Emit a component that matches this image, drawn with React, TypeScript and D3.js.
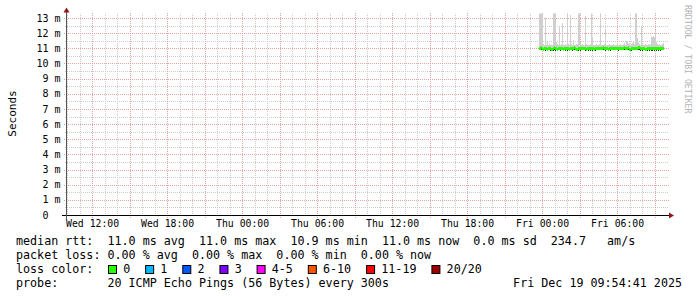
import React from 'react';
import * as d3 from 'd3';

const W = 697;
const H = 297;
const MONO = '"DejaVu Sans Mono", monospace';

// time frame (UTC)
const RANGE_START = Date.UTC(2025, 11, 17, 9, 54, 41);
const RANGE_END = Date.UTC(2025, 11, 19, 9, 54, 41);
const SERIES_START = Date.UTC(2025, 11, 18, 23, 45, 0);
const STEP_MS = 300 * 1000;

const yTickValues = [0, 1, 2, 3, 4, 5, 6, 7, 8, 9, 10, 11, 12, 13];

// median rtt per 5-min step (ms)
const medianMs = [
  11.0, 11.0, 11.05, 11.0, 10.95, 11.0, 11.0, 11.0, 10.95, 11.0,
  11.0, 11.0, 10.95, 11.0, 11.05, 11.0, 11.0, 10.95, 11.0, 11.0,
  11.0, 11.0, 11.0, 10.95, 11.0, 11.0, 11.0, 11.0, 11.0, 10.95,
  11.0, 11.0, 11.0, 11.0, 11.05, 11.0, 10.95, 11.0, 11.0, 11.0,
  11.0, 11.0, 11.0, 11.0, 11.0, 10.95, 11.0, 11.0, 11.0, 11.0,
  11.0, 11.0, 11.0, 10.95, 11.0, 11.0, 11.0, 11.0, 11.0, 11.0,
  11.0, 11.05, 11.0, 11.0, 11.0, 11.0, 10.95, 11.0, 11.0, 11.0,
  11.0, 11.0, 11.0, 11.0, 11.0, 11.0, 11.0, 11.0, 11.0, 11.0,
  11.0, 11.0, 11.05, 11.0, 11.0, 11.05, 10.95, 10.95, 11.0, 11.0,
  11.0, 11.0, 11.0, 11.0, 11.0, 11.05, 11.05, 11.0, 11.0, 11.0,
  11.0, 11.0, 10.95, 10.95, 11.0, 11.0, 11.0, 11.0, 11.0, 11.0,
  11.0, 11.0, 11.0, 11.0, 11.0, 11.0, 11.0, 11.0, 11.0, 11.0,
];

// slowest ping per step (top of the smoke, ms)
const maxMs = [
  13.6, 13.6, 13.5, 13.4, 11.3, 11.2, 13.0, 11.25, 11.4, 11.2,
  11.3, 11.2, 11.25, 13.6, 13.6, 13.5, 11.4, 11.3, 11.2, 12.45,
  11.2, 11.3, 12.65, 11.2, 11.25, 11.3, 11.2, 13.4, 11.3, 11.2,
  13.2, 11.3, 11.2, 11.55, 11.25, 11.2, 11.3, 13.5, 13.6, 11.4,
  11.2, 11.3, 11.2, 11.25, 13.15, 11.3, 11.2, 11.25, 11.2, 11.3,
  13.6, 11.75, 11.2, 11.25, 11.2, 11.3, 11.2, 11.2, 11.3, 13.4,
  11.25, 11.2, 11.3, 12.3, 11.2, 11.25, 11.2, 11.3, 11.2, 11.25,
  11.2, 11.3, 11.2, 11.2, 11.25, 11.3, 11.2, 11.25, 11.3, 11.2,
  11.25, 11.3, 11.35, 11.25, 11.45, 11.3, 11.35, 11.2, 11.3, 11.35,
  11.4, 11.3, 13.6, 13.5, 11.7, 11.4, 11.3, 11.25, 12.4, 11.3,
  11.2, 11.25, 11.3, 11.2, 11.25, 11.3, 11.25, 11.3, 11.75, 11.8,
  11.75, 12.2, 11.4, 11.3, 11.25, 11.3, 11.25, 11.2, 11.3, 11.35,
];

// fastest ping per step (bottom of the smoke, ms)
const minMs = [
  10.92, 10.92, 10.92, 10.92, 10.8, 10.92, 10.8, 10.92, 10.8, 10.92,
  10.92, 10.8, 10.92, 10.8, 10.92, 10.8, 10.92, 10.92, 10.92, 10.92,
  10.8, 10.92, 10.92, 10.92, 10.92, 10.8, 10.92, 10.8, 10.92, 10.92,
  10.92, 10.92, 10.8, 10.92, 10.92, 10.92, 10.92, 10.8, 10.92, 10.8,
  10.92, 10.92, 10.92, 10.92, 10.8, 10.92, 10.92, 10.8, 10.92, 10.8,
  10.92, 10.8, 10.92, 10.92, 10.8, 10.92, 10.92, 10.92, 10.92, 10.92,
  10.92, 10.92, 10.92, 10.8, 10.92, 10.92, 10.92, 10.92, 10.8, 10.92,
  10.92, 10.92, 10.92, 10.92, 10.92, 10.92, 10.8, 10.92, 10.92, 10.92,
  10.92, 10.92, 10.92, 10.92, 10.92, 10.92, 10.8, 10.92, 10.8, 10.92,
  10.92, 10.92, 10.92, 10.92, 10.92, 10.92, 10.92, 10.8, 10.92, 10.8,
  10.92, 10.92, 10.92, 10.92, 10.8, 10.92, 10.8, 10.92, 10.8, 10.92,
  10.8, 10.92, 10.8, 10.92, 10.8, 10.92, 10.8, 10.92, 10.92, 10.92,
];

const lossLabels = ['0', '1', '2', '3', '4-5', '6-10', '11-19', '20/20'];
const lossColors = ['#26ff00', '#00b8ff', '#0059ff', '#7e00ff', '#ff00ff', '#ff5500', '#ff0000', '#a00000'];

const legendLine1 = 'median rtt:  11.0 ms avg  11.0 ms max  10.9 ms min  11.0 ms now  0.0 ms sd  234.7   am/s';
const legendLine2 = 'packet loss: 0.00 % avg  0.00 % max  0.00 % min  0.00 % now';
const legendLine3 = 'loss color:';
const legendLine4 = 'probe:       20 ICMP Echo Pings (56 Bytes) every 300s';
const dateStamp = 'Fri Dec 19 09:54:41 2025';
const yTitle = 'Seconds';
const watermark = 'RRDTOOL / TOBI OETIKER';

const X0 = 66;
const X1 = 666;
const Y0 = 215;
const YTOP = 13.5;

export default function App() {
  const x = d3.scaleUtc().domain([RANGE_START, RANGE_END]).range([X0, X1]);
  const y = d3.scaleLinear().domain([0, 13]).range([Y0, 18]);

  const minorV = d3.utcHour.every(1)!.range(new Date(RANGE_START), new Date(RANGE_END));
  const majorV = d3.utcHour.every(3)!.range(new Date(RANGE_START), new Date(RANGE_END));
  const labelV = d3.utcHour.every(6)!.range(new Date(RANGE_START), new Date(RANGE_END));
  const fmt = d3.utcFormat('%a %H:%M');

  const minorH = d3.range(0.5, 13.01, 1);

  const steps = medianMs.map((m, i) => {
    const t0 = SERIES_START + i * STEP_MS;
    const xa = x(t0);
    const xb = x(t0 + STEP_MS);
    return { xa, w: xb - xa, med: m, mx: maxMs[i], mn: minMs[i] };
  });

  const charW = 11.7 * 0.6021;
  let bx = 108.5;
  const boxes = lossLabels.map((lab, i) => {
    const item = { bx, tx: bx + 14.7, lab, color: lossColors[i] };
    bx = bx + 14.7 + lab.length * charW + 15.4;
    return item;
  });

  const legendStyle: React.CSSProperties = { whiteSpace: 'pre' };

  return (
    <svg width={W} height={H} style={{ position: 'absolute', left: 0, top: 0, background: '#fff' }}>
      <rect x={0} y={0} width={W} height={H} fill="#ffffff" />
      <defs>
        <clipPath id="plotclip">
          <rect x={X0} y={YTOP} width={X1 - X0} height={Y0 - YTOP} />
        </clipPath>
      </defs>

      {/* minor grid */}
      {minorH.map((v) => (
        <line key={'mh' + v} x1={X0 - 1} x2={X1 + 2} y1={Math.round(y(v)) + 0.5} y2={Math.round(y(v)) + 0.5}
          stroke="#cccccc" strokeDasharray="1,1" />
      ))}
      {minorV.map((d) => (
        <line key={'mv' + +d} x1={Math.round(x(d)) + 0.5} x2={Math.round(x(d)) + 0.5} y1={Y0 + 1} y2={YTOP}
          stroke="#cccccc" strokeDasharray="1,1" />
      ))}
      {/* major grid */}
      {yTickValues.filter((v) => v > 0).map((v) => (
        <line key={'Mh' + v} x1={X0 - 2} x2={X1 + 3} y1={Math.round(y(v)) + 0.5} y2={Math.round(y(v)) + 0.5}
          stroke="#e8a4a4" strokeDasharray="1,1" />
      ))}
      {majorV.map((d) => (
        <line key={'Mv' + +d} x1={Math.round(x(d)) + 0.5} x2={Math.round(x(d)) + 0.5} y1={Y0 + 3} y2={YTOP - 1}
          stroke="#e8a4a4" strokeDasharray="1,1" />
      ))}

      {/* smoke + median */}
      <g clipPath="url(#plotclip)" shapeRendering="crispEdges">
        {steps.map((s, i) => (
          <rect key={'up' + i} x={s.xa} width={s.w} y={y(s.mx)} height={y(s.med) - y(s.mx)} fill="#cfcfcf" />
        ))}
        {steps.map((s, i) => (
          <rect key={'lo' + i} x={s.xa} width={s.w} y={y(s.med)} height={y(s.mn) - y(s.med)} fill="#2a2a2a" />
        ))}
        {steps.map((s, i) => (
          <rect key={'md' + i} x={s.xa} width={s.w} y={y(s.med + 0.1)} height={y(s.med - 0.1) - y(s.med + 0.1)}
            fill={lossColors[0]} />
        ))}
      </g>

      {/* axes */}
      <line x1={X0 - 4} x2={X1 + 3} y1={Y0 + 0.5} y2={Y0 + 0.5} stroke="#000" />
      <line x1={X0 + 0.5} x2={X0 + 0.5} y1={Y0 + 4} y2={YTOP - 2} stroke="#555" />
      <path d={`M${X1 + 3},${Y0 + 0.5 - 3}L${X1 + 8},${Y0 + 0.5}L${X1 + 3},${Y0 + 0.5 + 3}Z`} fill="#8b1a1a" />
      <path d={`M${X0 + 0.5 - 3},${YTOP - 1}L${X0 + 0.5},${YTOP - 6}L${X0 + 0.5 + 3},${YTOP - 1}Z`} fill="#8b1a1a" />

      {/* y labels */}
      {yTickValues.map((v) => (
        <text key={'yl' + v} x={60.5} y={y(v) + 3.6} textAnchor="end" fontFamily={MONO} fontSize={10}
          fill="#000" style={legendStyle}>{v === 0 ? '0  ' : `${v} m`}</text>
      ))}
      {/* x labels */}
      {labelV.map((d) => (
        <text key={'xl' + +d} x={x(d) + 0.5} y={227} textAnchor="middle" fontFamily={MONO} fontSize={9.8}
          fill="#000">{fmt(d)}</text>
      ))}

      <text transform={`translate(15.5,113.5) rotate(-90)`} textAnchor="middle" fontFamily={MONO} fontSize={11}
        fill="#000">{yTitle}</text>
      <text transform={`translate(685,5) rotate(90)`} textAnchor="start" fontFamily={MONO} fontSize={8.2}
        fill="#b4b4b4">{watermark}</text>

      {/* legend */}
      <text x={16} y={245.3} fontFamily={MONO} fontSize={11.7} fill="#000" style={legendStyle}>{legendLine1}</text>
      <text x={16} y={259.3} fontFamily={MONO} fontSize={11.7} fill="#000" style={legendStyle}>{legendLine2}</text>
      <text x={16} y={273.3} fontFamily={MONO} fontSize={11.7} fill="#000" style={legendStyle}>{legendLine3}</text>
      {boxes.map((b) => (
        <g key={'lb' + b.lab}>
          <rect x={b.bx} y={265.5} width={8} height={8} fill={b.color} stroke="#000" strokeWidth={1} />
          <text x={b.tx} y={273.3} fontFamily={MONO} fontSize={11.7} fill="#000">{b.lab}</text>
        </g>
      ))}
      <text x={16} y={287.3} fontFamily={MONO} fontSize={11.7} fill="#000" style={legendStyle}>{legendLine4}</text>
      <text x={682} y={287.3} textAnchor="end" fontFamily={MONO} fontSize={11.7} fill="#000">{dateStamp}</text>
    </svg>
  );
}
